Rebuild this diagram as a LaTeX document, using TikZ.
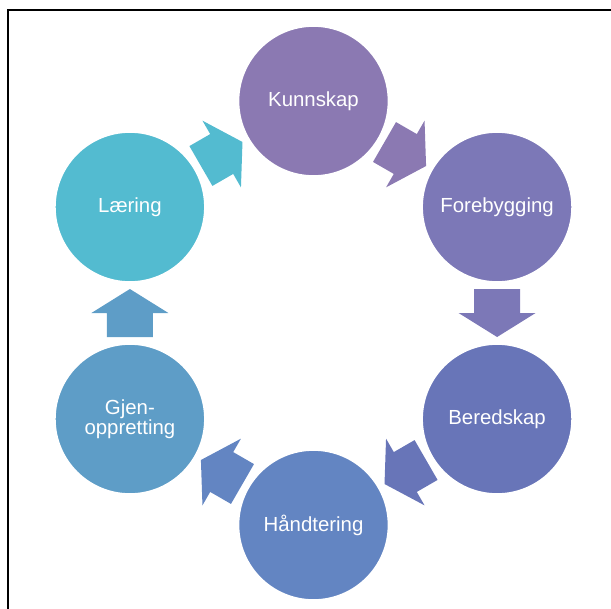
\documentclass[tikz,border=0pt]{standalone}
\usepackage{fontspec}
\setmainfont{Liberation Sans}
\usepackage{tikz}
\usetikzlibrary{calc}

\definecolor{kunnskapcol}{HTML}{8B79B2}
\definecolor{forebyggingcol}{HTML}{7C78B7}
\definecolor{beredskapcol}{HTML}{6875B8}
\definecolor{handteringcol}{HTML}{6385C2}
\definecolor{gjenopprettingcol}{HTML}{5E9DC7}
\definecolor{laeringcol}{HTML}{53BBD0}

% block arrow halfway between two stages: from, to, angle, colour
\newcommand{\cyclearrow}[4]{%
  \fill[#4, shift={($(#1)!0.5!(#2)$)}, rotate=#3]
    (-24,-23) -- (0,-23) -- (0,-38.5) -- (24,0) -- (0,38.5) -- (0,23) -- (-24,23) -- cycle;
}

\begin{document}
\begin{tikzpicture}[
    x=0.025cm, y=0.025cm,
    stage/.style={circle, draw=white, line width=1.2pt, minimum size=3.75cm, inner sep=0pt, text=white, align=center, font=\fontsize{14.5}{13.5}\selectfont},
    frame/.style={line width=1.5pt}
]
\useasboundingbox (-313.5,-295) rectangle (297.5,313);
\clip (-313.5,-295) rectangle (297.5,313);

% Frame
\draw[frame] (-305.5,-320) |- (320,303);

% Stages
\node[stage, fill=kunnskapcol] (kunnskap) at (90:212) {Kunnskap};
\node[stage, fill=forebyggingcol] (forebygging) at (30:212) {Forebygging};
\node[stage, fill=beredskapcol] (beredskap) at (-30:212) {Beredskap};
\node[stage, fill=handteringcol] (handtering) at (-90:212) {Håndtering};
\node[stage, fill=gjenopprettingcol] (gjenoppretting) at (-150:212) {Gjen-\\oppretting};
\node[stage, fill=laeringcol] (laering) at (150:212) {Læring};

% Arrows
\cyclearrow{kunnskap}{forebygging}{-30}{kunnskapcol}
\cyclearrow{forebygging}{beredskap}{-90}{forebyggingcol}
\cyclearrow{beredskap}{handtering}{-150}{beredskapcol}
\cyclearrow{handtering}{gjenoppretting}{150}{handteringcol}
\cyclearrow{gjenoppretting}{laering}{90}{gjenopprettingcol}
\cyclearrow{laering}{kunnskap}{30}{laeringcol}

\end{tikzpicture}
\end{document}
